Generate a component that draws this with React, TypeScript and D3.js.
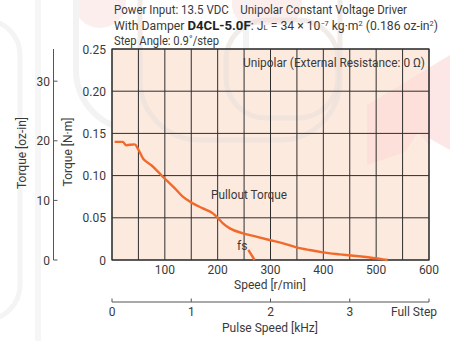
import React from "react";
import * as d3 from "d3";

const speedTicks = [100, 200, 300, 400, 500, 600];
const torqueTicks = [0, 0.05, 0.1, 0.15, 0.2, 0.25];
const torqueTickLabels = ["0", "0.05", "0.10", "0.15", "0.20", "0.25"];
const ozTicks = [0, 10, 20, 30];
const pulseTicks = [0, 1, 2, 3, 4];
const pulseTickLabels = ["0", "1", "2", "3", "Full Step"];

const pulloutSpeed = [5, 20, 27, 43, 49, 59, 65, 74, 87, 96, 106, 119, 134, 153, 172, 191, 201, 210, 223, 248, 273, 298, 324, 349, 374, 399, 431, 462, 494, 522];
const pulloutTorque = [0.14, 0.14, 0.136, 0.137, 0.132, 0.12, 0.1165, 0.1125, 0.1047, 0.0987, 0.0928, 0.0849, 0.075, 0.0671, 0.0612, 0.0553, 0.0494, 0.0434, 0.0375, 0.0316, 0.0276, 0.0237, 0.0197, 0.015, 0.0118, 0.0091, 0.0067, 0.0047, 0.0024, 0.0];
const fsSpeed = [258, 270];
const fsTorque = [0.012, 0.0];

const OZ_PER_NM = 141.6;
const TXT = "#3a3a3a";
const FONT = "Roboto, 'Liberation Sans', sans-serif";

export default function App() {
  const x = d3.scaleLinear().domain([0, 600]).range([112, 429]);
  const y = d3.scaleLinear().domain([0, 0.25]).range([260, 49]);
  const yOz = d3.scaleLinear().domain([0, 0.25 * OZ_PER_NM]).range([260, 49]);
  const xPulse = d3.scaleLinear().domain([0, 4]).range([112, 429]);

  const line = d3
    .line<number>()
    .x((_, i) => x(pulloutSpeed[i]))
    .y((d) => y(d))
    .curve(d3.curveMonotoneX);
  const fsLine = d3
    .line<number>()
    .x((_, i) => x(fsSpeed[i]))
    .y((d) => y(d));

  const vGrid = d3.range(0, 601, 50);
  const hGrid = d3.range(0, 0.2501, 0.05);

  return (
    <svg
      width={450}
      height={341}
      style={{ position: "absolute", left: 0, top: 0, background: "#fff" }}
      fontFamily={FONT}
    >
      {/* faint watermark */}
      <g>
        <circle cx={100} cy={2} r={26} fill="#fdeeee" />
        <rect x={232} y={-20} width={70} height={45} rx={20} fill="#fdeeee" />
        <polygon points="367,105 450,55 450,150 418,132 405,152 367,165" fill="#fde6e6" />
        <rect x={-60} y={20} width={80} height={300} rx={35} fill="none" stroke="#f4f4f4" strokeWidth={5} />
        <rect x={35} y={-40} width={6} height={400} fill="#f6f6f6" />
        <rect x={76} y={-60} width={170} height={190} rx={60} fill="none" stroke="#f3f3f3" strokeWidth={6} />
      </g>

      {/* plot background */}
      <rect x={112} y={49} width={317} height={211} fill="#fdeadf" />

      {/* watermark over plot (faint) */}
      <g>
        <polygon points="367,105 429,68 429,145 418,132 405,152 367,165" fill="#fbdcd6" opacity={0.7} />
        <rect x={140} y={-60} width={200} height={200} rx={60} fill="none" stroke="#e9e0da" strokeWidth={5} opacity={0.6} />
        <rect x={226} y={20} width={112} height={98} rx={40} fill="none" stroke="#e9e0da" strokeWidth={5} opacity={0.6} />
      </g>

      {/* grid */}
      {vGrid.map((v) => (
        <line key={"v" + v} x1={x(v)} x2={x(v)} y1={49} y2={260} stroke="#2e2e2e" strokeWidth={1} />
      ))}
      {hGrid.map((v, i) => (
        <line key={"h" + i} x1={112} x2={429} y1={y(v)} y2={y(v)} stroke="#2e2e2e" strokeWidth={1} />
      ))}
      <rect x={112} y={49} width={317} height={211} fill="none" stroke="#333" strokeWidth={1.2} />

      {/* curves */}
      <path d={line(pulloutTorque) || ""} fill="none" stroke="#f26a2b" strokeWidth={2.4} />
      <path d={fsLine(fsTorque) || ""} fill="none" stroke="#f26a2b" strokeWidth={2.4} />

      {/* y axis N·m labels */}
      {torqueTicks.map((t, i) => (
        <text key={"yt" + i} x={106} y={y(t) + 4.5} textAnchor="end" fontSize={12} fill={TXT}>
          {torqueTickLabels[i]}
        </text>
      ))}
      <text
        transform={`translate(72,152) rotate(-90)`}
        textAnchor="middle"
        fontSize={12}
        fill={TXT}
      >
        Torque [N·m]
      </text>

      {/* oz-in axis */}
      <line x1={53.5} x2={53.5} y1={49} y2={260} stroke="#555" strokeWidth={1} />
      {ozTicks.map((t) => (
        <g key={"oz" + t}>
          <line x1={53.5} x2={57.5} y1={yOz(t)} y2={yOz(t)} stroke="#555" strokeWidth={1} />
          <text x={50} y={yOz(t) + 4.5} textAnchor="end" fontSize={12} fill={TXT}>
            {t}
          </text>
        </g>
      ))}
      <text
        transform={`translate(26,153) rotate(-90)`}
        textAnchor="middle"
        fontSize={12}
        fill={TXT}
      >
        Torque [oz-in]
      </text>

      {/* x axis speed */}
      {speedTicks.map((t) => (
        <text key={"xt" + t} x={x(t)} y={274} textAnchor="middle" fontSize={12} fill={TXT}>
          {t}
        </text>
      ))}
      <text x={270} y={289} textAnchor="middle" fontSize={12} fill={TXT}>
        Speed [r/min]
      </text>

      {/* pulse axis */}
      <line x1={112} x2={429} y1={302} y2={302} stroke="#555" strokeWidth={1} />
      {pulseTicks.map((t) => (
        <line key={"pt" + t} x1={xPulse(t)} x2={xPulse(t)} y1={302} y2={298.5} stroke="#555" strokeWidth={1} />
      ))}
      {pulseTicks.map((t, i) =>
        i < pulseTicks.length - 1 ? (
          <text key={"pl" + t} x={xPulse(t)} y={316} textAnchor="middle" fontSize={12} fill={TXT}>
            {pulseTickLabels[i]}
          </text>
        ) : (
          <text key={"pl" + t} x={437} y={316} textAnchor="end" fontSize={12} fill={TXT}>
            {pulseTickLabels[i]}
          </text>
        )
      )}
      <text x={270} y={332} textAnchor="middle" fontSize={12} fill={TXT}>
        Pulse Speed [kHz]
      </text>

      {/* annotations */}
      <text x={425} y={67} textAnchor="end" fontSize={12} fill={TXT} textLength={182} lengthAdjust="spacingAndGlyphs">
        Unipolar (External Resistance: 0 Ω)
      </text>
      <text x={211} y={199} fontSize={12} fill={TXT} textLength={76} lengthAdjust="spacingAndGlyphs">
        Pullout Torque
      </text>
      <text x={237} y={250} fontSize={12} fill={TXT}>
        fs
      </text>

      {/* header */}
      <text x={114} y={13.5} fontSize={12.5} fill={TXT} textLength={293} lengthAdjust="spacingAndGlyphs">
        Power Input: 13.5 VDC{"\u00a0\u00a0\u00a0\u00a0"}Unipolar Constant Voltage Driver
      </text>
      <text x={114} y={29.5} fontSize={12.5} fill={TXT} textLength={324} lengthAdjust="spacingAndGlyphs">
        <tspan>With Damper </tspan>
        <tspan fontWeight="bold" fontSize={13.5} fill="#222">D4CL-5.0F</tspan>
        <tspan>: J</tspan>
        <tspan fontSize={8}>L</tspan>
        <tspan> = 34 × 10</tspan>
        <tspan fontSize={7.5} dy={-4}>−7</tspan>
        <tspan dy={4}> kg·m</tspan>
        <tspan fontSize={7.5} dy={-4}>2</tspan>
        <tspan dy={4}> (0.186 oz-in</tspan>
        <tspan fontSize={7.5} dy={-4}>2</tspan>
        <tspan dy={4}>)</tspan>
      </text>
      <text x={114} y={44.5} fontSize={12.5} fill={TXT} textLength={105} lengthAdjust="spacingAndGlyphs">
        Step Angle: 0.9˚/step
      </text>
    </svg>
  );
}
